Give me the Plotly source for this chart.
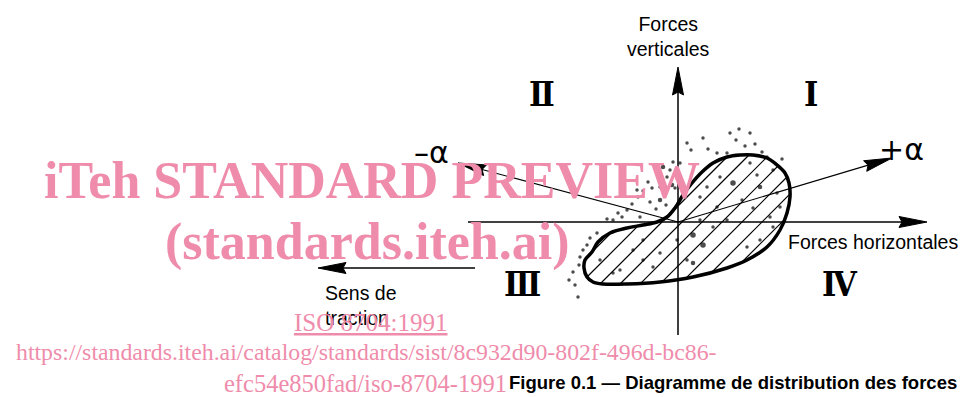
import math
import plotly.graph_objects as go

# ---- diagram data (force space, origin at the axes crossing; 1 unit = 1 px) ----
blob_x = [-80, -86, -93, -94, -91, -85, -75, -51, -18, 15, 49, 69, 89, 102, 109, 112, 111, 107,
          99, 89, 75, 62, 49, 35, 24, 14, 5, -3, -11, -21, -35, -51, -68]
blob_y = [-20, -30, -38, -46, -55, -60, -62, -62, -60, -55, -46, -38, -25, -8, 9, 25, 39, 49,
          57, 64, 67, 67, 65, 59, 50, 39, 27, 14, 5, 0, -3, -6, -11]

dot_x = [61, 72, 52, 25, 9, 13, 67, 77, 39, 49, 89, 104,
         -15, -18, -11, -6, -3, -26, -35, -40, -28, -18, -12, -22, -51, -56, -71, -65, -38, 2, -5, -41, -18, -1,
         -81, -91, -95, -98, -105, -99, -103, -100,
         55, 42, 79, 82, 64, 75, 92, 49, 35, 15, 25, 9, 15, -18, -35, -45, -58, -65, -78, -35, -1, 69, 82, 95,
         39, 22, 22, 29, 99, 102, -25, 72, 95,
         -8, -30, -46, -60, 30, 58, 84, -88, -109]
dot_y = [93, 89, 89, 84, 79, 72, 76, 78, 69, 69, 65, 63,
         55, 49, 45, 37, 34, 34, 31, 25, 20, 22, 17, 13, 12, 5, 3, 2, 5, 59, 60, 32, 35, 44,
         -11, -23, -28, -35, -50, -43, -63, -75,
         39, 45, 47, 35, 22, 14, 5, 2, -5, -13, -23, -38, -41, -31, -38, -28, -48, -51, -38, -18, -18, -25, -18, -5,
         15, 2, 25, 35, 29, 15, -45, 59, 52,
         52, 40, 18, 9, 73, 82, 70, -16, -58]
dot_s = [3, 3, 3, 3, 3, 3, 3, 3, 3, 3, 3, 3,
         4, 3, 3, 4, 3, 3, 3, 3, 3, 4, 3, 3, 3, 3, 3, 3, 3, 3, 3, 3, 3, 3,
         3, 3, 3, 3, 3, 3, 3, 3,
         5, 3, 3, 4, 3, 3, 3, 3, 3, 5, 5, 3, 4, 3, 3, 3, 3, 3, 3, 3, 3, 3, 3, 3,
         3, 3, 3, 3, 3, 3, 3, 3, 3,
         3, 3, 3, 3, 3, 3, 3, 3, 3]

# arrows: (tail, tip)
arrow_names = ["horizontal", "vertical", "minus_alpha", "plus_alpha", "traction"]
arrow_tail = [(-210, 0), (0, -113), (0, 0), (0, 0), (-203, -46)]
arrow_tip = [(249, 0), (0, 155), (-220, 59), (214, 64), (-360, -46)]
arrow_lw = [1.5, 1.5, 1.1, 1.1, 1.5]

quadrants = ["Ⅰ", "Ⅱ", "Ⅲ", "Ⅳ"]
quad_x = [133, -136, -156, 162]
quad_y = [128, 128, -62, -62]

PINK = "#EF8CAB"
HEAD_LEN, HEAD_W = 28, 11
HATCH_STEP = 20   # horizontal spacing of the 45-degree hatching

fig = go.Figure()

# white fill of the region
fig.add_trace(go.Scatter(
    x=blob_x + blob_x[:1], y=blob_y + blob_y[:1], mode="lines",
    line=dict(color="white", width=0, shape="spline"), fill="toself", fillcolor="white",
    hoverinfo="skip", showlegend=False))

# 45-degree hatching clipped to the region outline (lines y = x + c)
poly = list(zip(blob_x, blob_y))
hx_pts, hy_pts = [], []
cmin = min(y - x for x, y in poly)
cmax = max(y - x for x, y in poly)
c = cmin + HATCH_STEP / 2
while c < cmax:
    xs = []
    for (x1, y1), (x2, y2) in zip(poly, poly[1:] + poly[:1]):
        f1, f2 = y1 - x1 - c, y2 - x2 - c
        if (f1 > 0) != (f2 > 0):
            t = f1 / (f1 - f2)
            xs.append(x1 + t * (x2 - x1))
    xs.sort()
    for a, b in zip(xs[0::2], xs[1::2]):
        hx_pts += [a, b, None]
        hy_pts += [a + c, b + c, None]
    c += HATCH_STEP
fig.add_trace(go.Scatter(x=hx_pts, y=hy_pts, mode="lines", line=dict(color="black", width=1.2),
                         hoverinfo="skip", showlegend=False))

# stippling dots
fig.add_trace(go.Scatter(
    x=dot_x, y=dot_y, mode="markers",
    marker=dict(color="black", size=[s + 0.5 for s in dot_s], line=dict(width=0)),
    hoverinfo="skip", showlegend=False))

# arrows (shaft + filled triangular head built from tail/tip)
for (tx, ty), (hx, hy), lw in zip(arrow_tail, arrow_tip, arrow_lw):
    d = math.hypot(hx - tx, hy - ty)
    ux, uy = (hx - tx) / d, (hy - ty) / d
    bx, by = hx - ux * HEAD_LEN, hy - uy * HEAD_LEN
    px, py = -uy * HEAD_W / 2, ux * HEAD_W / 2
    fig.add_trace(go.Scatter(x=[tx, bx + ux * 4], y=[ty, by + uy * 4], mode="lines",
                             line=dict(color="black", width=lw), hoverinfo="skip", showlegend=False))
    fig.add_trace(go.Scatter(x=[hx, bx + px, bx + ux * 3, bx - px, hx],
                             y=[hy, by + py, by + uy * 3, by - py, hy],
                             mode="lines", fill="toself", fillcolor="black",
                             line=dict(color="black", width=1), hoverinfo="skip", showlegend=False))

# region outline
fig.add_trace(go.Scatter(
    x=blob_x + blob_x[:1], y=blob_y + blob_y[:1], mode="lines",
    line=dict(color="black", width=3.5, shape="spline", smoothing=1.0),
    hoverinfo="skip", showlegend=False))

sans = "Liberation Sans, Arial, sans-serif"
lab = dict(xref="x", yref="y", showarrow=False, font=dict(family=sans, size=19.5, color="black"))
fig.add_annotation(x=-10, y=186, text="Forces<br>verticales", align="center", **lab)
fig.add_annotation(x=195, y=-20, text="Forces horizontales", **lab)
fig.add_annotation(x=-317, y=-83, text="Sens de<br>traction", align="left", **lab)
fig.add_annotation(x=-247, y=70, text="–α", xref="x", yref="y", showarrow=False,
                   font=dict(family="DejaVu Sans", size=30, color="black"))
fig.add_annotation(x=223, y=73, text="+α", xref="x", yref="y", showarrow=False,
                   font=dict(family="DejaVu Sans", size=30, color="black"))

for q, qx, qy in zip(quadrants, quad_x, quad_y):
    fig.add_annotation(x=qx, y=qy, text="<b>" + q + "</b>", xref="x", yref="y", showarrow=False,
                       font=dict(family="DejaVu Serif Condensed, DejaVu Serif", size=34, color="black"))

# watermark
serif = "Liberation Serif, Times New Roman, serif"
fig.add_annotation(x=-306, y=42, text="<b>iTeh STANDARD PREVIEW</b>", xref="x", yref="y",
                   showarrow=False, font=dict(family=serif, size=52, color=PINK))
fig.add_annotation(x=-311, y=-20, text="<b>(standards.iteh.ai)</b>", xref="x", yref="y",
                   showarrow=False, font=dict(family=serif, size=52, color=PINK))
fig.add_annotation(x=-308, y=-100, text="<u>ISO 8704:1991</u>", xref="x", yref="y",
                   showarrow=False, font=dict(family=serif, size=25, color=PINK))
fig.add_annotation(x=-312, y=-130,
                   text="https://standards.iteh.ai/catalog/standards/sist/8c932d90-802f-496d-bc86-",
                   xref="x", yref="y", showarrow=False, font=dict(family=serif, size=23.8, color=PINK))
fig.add_annotation(x=-313, y=-161, text="efc54e850fad/iso-8704-1991", xref="x", yref="y",
                   showarrow=False, font=dict(family=serif, size=24.5, color=PINK))

# caption
fig.add_annotation(x=55, y=-160, text="<b>Figure 0.1 — Diagramme de distribution des forces</b>",
                   xref="x", yref="y", showarrow=False,
                   font=dict(family="Liberation Sans Narrow, Liberation Sans, Arial, sans-serif",
                             size=18.5, color="black"))

# page body keeps an 8 px margin: figure spans page pixels 8..968 x 8..397
fig.update_layout(
    width=960, height=389, margin=dict(l=0, r=0, t=0, b=0),
    paper_bgcolor="white", plot_bgcolor="white",
    xaxis=dict(range=[-670, 290], visible=False, fixedrange=True),
    yaxis=dict(range=[-175, 214], visible=False, fixedrange=True),
    showlegend=False,
)

fig.write_html("out.html")
